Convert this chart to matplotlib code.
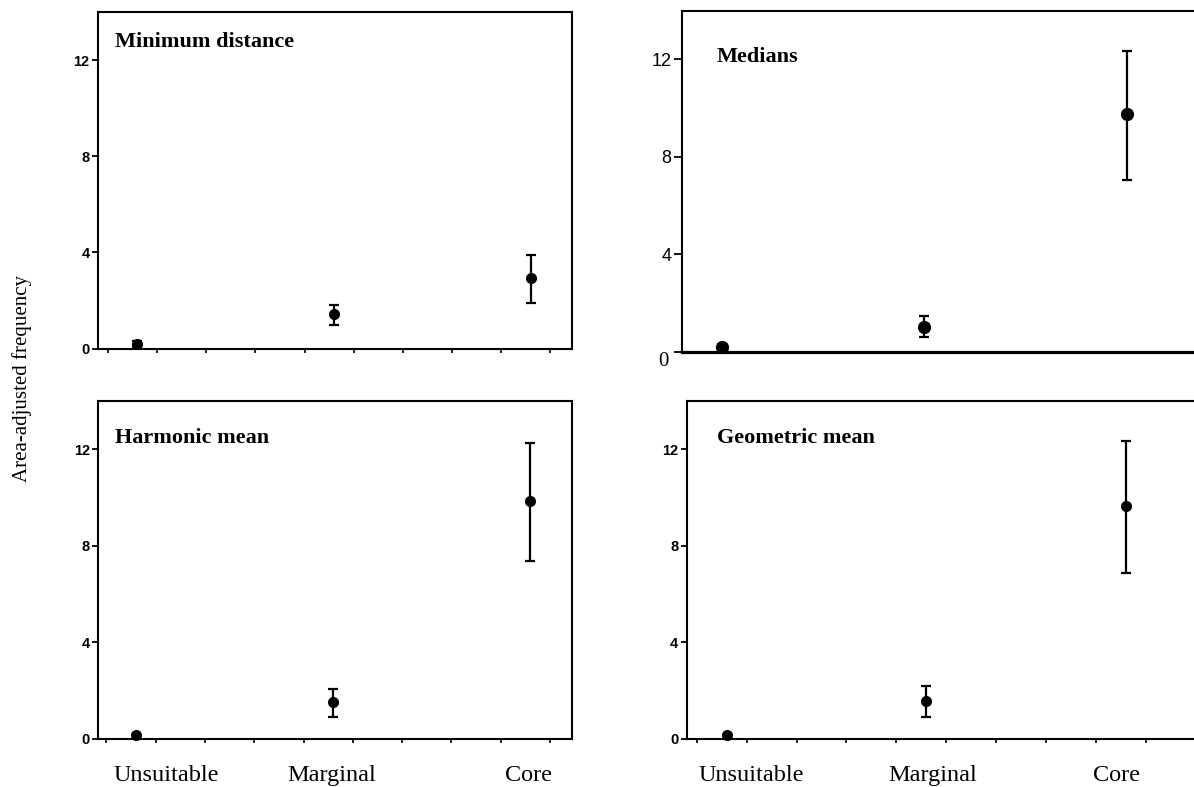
import numpy as np
import matplotlib
matplotlib.use('Agg')
import matplotlib.pyplot as plt
from matplotlib.transforms import blended_transform_factory

# Dane
categories = ['Unsuitable', 'Marginal', 'Core']
x_pos = [1, 2, 3]

min_dist = [0.18, 1.42, 2.93]
min_dist_lo = [0.07, 0.97, 1.89]
min_dist_hi = [0.32, 1.80, 3.87]

medians = [0.21, 1.03, 9.74]
medians_lo = [0.12, 0.62, 7.05]
medians_hi = [0.32, 1.45, 12.36]

harmonic = [0.15, 1.54, 9.85]
harmonic_lo = [0.15, 0.90, 7.37]
harmonic_hi = [0.15, 2.07, 12.26]

geometric = [0.15, 1.57, 9.64]
geometric_lo = [0.15, 0.93, 6.87]
geometric_hi = [0.15, 2.18, 12.33]

yticks = [0, 4, 8, 12]

W, H = 1194, 787
fig = plt.figure(figsize=(W / 100, H / 100), dpi=100)


def px_axes(left, top, right, bottom):
    return fig.add_axes([left / W, 1 - bottom / H, (right - left) / W, (bottom - top) / H])


def draw_panel(ax, mean, lo, hi, title, title_xy, xlim, ms=7):
    mean = np.array(mean)
    err = np.vstack([mean - np.array(lo), np.array(hi) - mean])
    ax.errorbar(x_pos, mean, yerr=err, fmt='o', color='black', ms=ms,
                elinewidth=1.6, capsize=3.5, capthick=1.6, clip_on=False, zorder=5)
    ax.set_xlim(*xlim)
    ax.set_ylim(0, 14)
    ax.text(title_xy[0], title_xy[1], title, transform=ax.transAxes,
            family='Liberation Serif', weight='bold', fontsize=16, va='baseline')
    for s in ax.spines.values():
        s.set_linewidth(1.5)


def bold_ticks(ax):
    ax.set_yticks(yticks)
    ax.set_yticklabels([str(t) for t in yticks], family='Liberation Sans',
                       weight='bold', fontsize=10.5)
    ax.tick_params(axis='y', length=4, width=1.3, pad=2)
    ax.set_xticks(np.arange(0.85, ax.get_xlim()[1], 0.25))
    ax.set_xticklabels([])
    ax.tick_params(axis='x', length=3, width=1.2)


def cat_labels(ax, xs):
    tr = blended_transform_factory(ax.transData, ax.transAxes)
    for x, lab in zip(xs, categories):
        ax.text(x, -0.109, lab, transform=tr, ha='center', va='center',
                family='Liberation Serif', fontsize=17.5, clip_on=False)


# Minimum distance
ax1 = px_axes(98, 12, 572, 348.5)
draw_panel(ax1, min_dist, min_dist_lo, min_dist_hi, 'Minimum distance', (0.036, 0.896), (0.80, 3.21))
bold_ticks(ax1)

# Medians
ax2 = px_axes(682.3, 10.7, 1220, 351.7)
draw_panel(ax2, medians, medians_lo, medians_hi, 'Medians', (0.064, 0.85), (0.805, 3.46), ms=8.5)
ax2.spines['bottom'].set_linewidth(2.3)
ax2.set_xticks([])
ax2.set_yticks(yticks)
ax2.set_yticklabels([''] + [str(t) for t in yticks[1:]], family='Liberation Sans', fontsize=13)
ax2.tick_params(axis='y', length=6, width=1.3, pad=2)
ax2.text(-0.026, -0.03, '0', transform=ax2.transAxes, ha='right', va='center',
         family='Liberation Serif', fontsize=15)

# Harmonic mean
ax3 = px_axes(98.3, 401, 571.7, 739)
draw_panel(ax3, harmonic, harmonic_lo, harmonic_hi, 'Harmonic mean', (0.036, 0.876), (0.809, 3.21))
bold_ticks(ax3)
cat_labels(ax3, [1.156, 1.994, 2.99])

# Geometric mean
ax4 = px_axes(686.7, 401, 1220, 739)
draw_panel(ax4, geometric, geometric_lo, geometric_hi, 'Geometric mean', (0.056, 0.876), (0.80, 3.47))
bold_ticks(ax4)
cat_labels(ax4, [1.125, 2.03, 2.95])

fig.text(22 / W, 1 - 379 / H, 'Area-adjusted frequency', rotation=90, ha='center', va='center',
         family='Liberation Serif', fontsize=15)

fig.savefig('out.png', dpi=100)
